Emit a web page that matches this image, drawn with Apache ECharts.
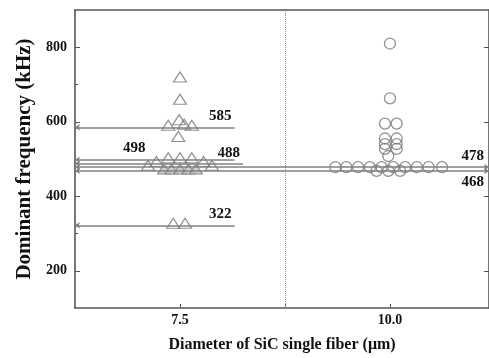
<!DOCTYPE html>
<html>
<head>
<meta charset="utf-8">
<script src="https://cdn.jsdelivr.net/npm/echarts@6/dist/echarts.min.js"></script>
<style>
html,body{margin:0;padding:0;background:#fff;}
#chart{width:489px;height:358px;}
</style>
</head>
<body>
<div id="chart"></div>
<script>
// ---- data ----
const xTickLabels = [7.5, 10.0];
const xTicks = [7.5, 8.75, 10.0];
const yTickLabels = [200, 400, 600, 800];
const yMinorTicks = [300, 500, 700];
const groupDivider = 8.75;

// 7.5 um fibers: [diameter position, dominant frequency kHz]
const triangles75 = [
  [7.5, 715], [7.5, 655],
  [7.36, 585], [7.49, 600], [7.55, 588], [7.64, 585],
  [7.48, 555],
  [7.36, 498], [7.5, 498], [7.64, 498],
  [7.22, 488], [7.78, 488],
  [7.12, 478], [7.88, 478],
  [7.42, 322], [7.56, 322]
];
const triangles75Dense = [[7.31, 468], [7.4, 468], [7.5, 468], [7.6, 468], [7.69, 468]];

// 10.0 um fibers
const circles10 = [
  [10.0, 810], [10.0, 663],
  [9.94, 595], [10.08, 595],
  [9.94, 555], [10.08, 555],
  [9.94, 540], [10.08, 540],
  [9.94, 527], [10.08, 527],
  [9.98, 508],
  [9.35, 478], [9.48, 478], [9.62, 478], [9.76, 478], [9.90, 478],
  [10.04, 478], [10.18, 478], [10.32, 478], [10.46, 478], [10.62, 478],
  [9.84, 468], [9.98, 468], [10.12, 468]
];

// marked reference frequencies and where each line ends
const refValues = [585, 498, 488, 478, 468, 322];
const refEnds   = [8.15, 8.15, 8.25, 11.179, 11.179, 8.15];

const X_MIN = 6.25, X_MAX = 11.179, Y_MIN = 100, Y_MAX = 900;

const FONT = 'Liberation Serif';
const axisColor = '#555';

const refLabelPos = {
  585: {position: 'insideEndTop', distance: [3, 4]},
  498: {position: 'insideStartTop', distance: [48, 4]},
  488: {position: 'insideEndTop', distance: [3, 3]},
  478: {position: 'insideEndTop', distance: [5, 4]},
  468: {position: 'insideEndBottom', distance: [5, 4]},
  322: {position: 'insideEndTop', distance: [3, 4]}
};

const refLineData = refValues.map((v, i) => {
  const full = refEnds[i] >= X_MAX - 0.01;
  return [
    {coord: [X_MIN, v], symbol: 'arrow',
     label: Object.assign({show: true, formatter: String(v)}, refLabelPos[v])},
    {coord: [refEnds[i], v], symbol: full ? 'arrow' : 'none'}
  ];
});

const chart = echarts.init(document.getElementById('chart'), null, {renderer: 'canvas'});

const labelFont = {fontFamily: FONT, fontWeight: 'bold', color: '#111'};

chart.setOption({
  animation: false,
  backgroundColor: '#fff',
  grid: {left: 75, right: 0, top: 10, bottom: 44, containLabel: false},
  xAxis: [{
    type: 'value', min: X_MIN, max: X_MAX, position: 'bottom',
    name: 'Diameter of SiC single fiber (\u03bcm)', nameLocation: 'middle', nameGap: 29,
    nameTextStyle: Object.assign({fontSize: 16}, labelFont),
    axisLine: {show: true, lineStyle: {color: axisColor, width: 1.6}},
    axisTick: {show: true, inside: true, length: 4, customValues: xTicks, lineStyle: {color: axisColor}},
    axisLabel: Object.assign({fontSize: 14, margin: 5, customValues: xTickLabels,
      formatter: v => Number(v).toFixed(1)}, labelFont),
    splitLine: {show: false}
  }, {
    type: 'value', min: X_MIN, max: X_MAX, position: 'top',
    axisLine: {show: true, lineStyle: {color: axisColor, width: 1.6}},
    axisTick: {show: false}, axisLabel: {show: false}, splitLine: {show: false}
  }],
  yAxis: [{
    type: 'value', min: Y_MIN, max: Y_MAX, position: 'left', offset: 0,
    name: 'Dominant frequency (kHz)', nameLocation: 'middle', nameGap: 40, nameRotate: 90,
    nameTextStyle: Object.assign({fontSize: 21}, labelFont),
    axisLine: {show: true, lineStyle: {color: axisColor, width: 1.6}},
    axisTick: {show: true, inside: true, length: 5, customValues: yTickLabels, lineStyle: {color: axisColor}},
    axisLabel: Object.assign({fontSize: 14, margin: 8, customValues: yTickLabels}, labelFont),
    splitLine: {show: false}
  }, {
    type: 'value', min: Y_MIN, max: Y_MAX, position: 'left', offset: 0,
    axisLine: {show: false},
    axisTick: {show: true, inside: true, length: 3, customValues: yMinorTicks, lineStyle: {color: axisColor}},
    axisLabel: {show: false}, splitLine: {show: false}
  }, {
    type: 'value', min: Y_MIN, max: Y_MAX, position: 'right', offset: 0,
    axisLine: {show: true, lineStyle: {color: axisColor, width: 1.6}},
    axisTick: {show: true, inside: true, length: 5, customValues: yTickLabels, lineStyle: {color: axisColor}},
    axisLabel: {show: false}, splitLine: {show: false}
  }],
  series: [{
    name: 'divider', type: 'scatter', data: [], xAxisIndex: 0, yAxisIndex: 0,
    markLine: {
      silent: true, symbol: ['none', 'none'],
      lineStyle: {color: '#999', type: 'dotted', width: 1},
      label: {show: false},
      data: [{xAxis: groupDivider}]
    }
  }, {
    name: 'refs', type: 'scatter', data: [], xAxisIndex: 0, yAxisIndex: 0, z: 1,
    markLine: {
      silent: true, symbolSize: 5,
      lineStyle: {color: '#808080', type: 'solid', width: 1.5},
      label: Object.assign({fontSize: 15}, labelFont),
      data: refLineData
    }
  }, {
    name: '7.5 um dense', type: 'scatter', xAxisIndex: 0, yAxisIndex: 0, z: 3,
    symbol: 'triangle', symbolSize: [13, 10], symbolOffset: [0, -2],
    itemStyle: {color: '#c4c4c4', borderColor: '#777', borderWidth: 1.1},
    data: triangles75Dense
  }, {
    name: '7.5 um', type: 'scatter', xAxisIndex: 0, yAxisIndex: 0, z: 3,
    symbol: 'triangle', symbolSize: [13, 10], symbolOffset: [0, -2],
    itemStyle: {color: 'rgba(255,255,255,0)', borderColor: '#777', borderWidth: 1.2},
    data: triangles75
  }, {
    name: '10.0 um', type: 'scatter', xAxisIndex: 0, yAxisIndex: 0, z: 3,
    symbol: 'circle', symbolSize: 11,
    itemStyle: {color: 'rgba(255,255,255,0)', borderColor: '#777', borderWidth: 1.3},
    data: circles10
  }]
});
</script>
</body>
</html>
